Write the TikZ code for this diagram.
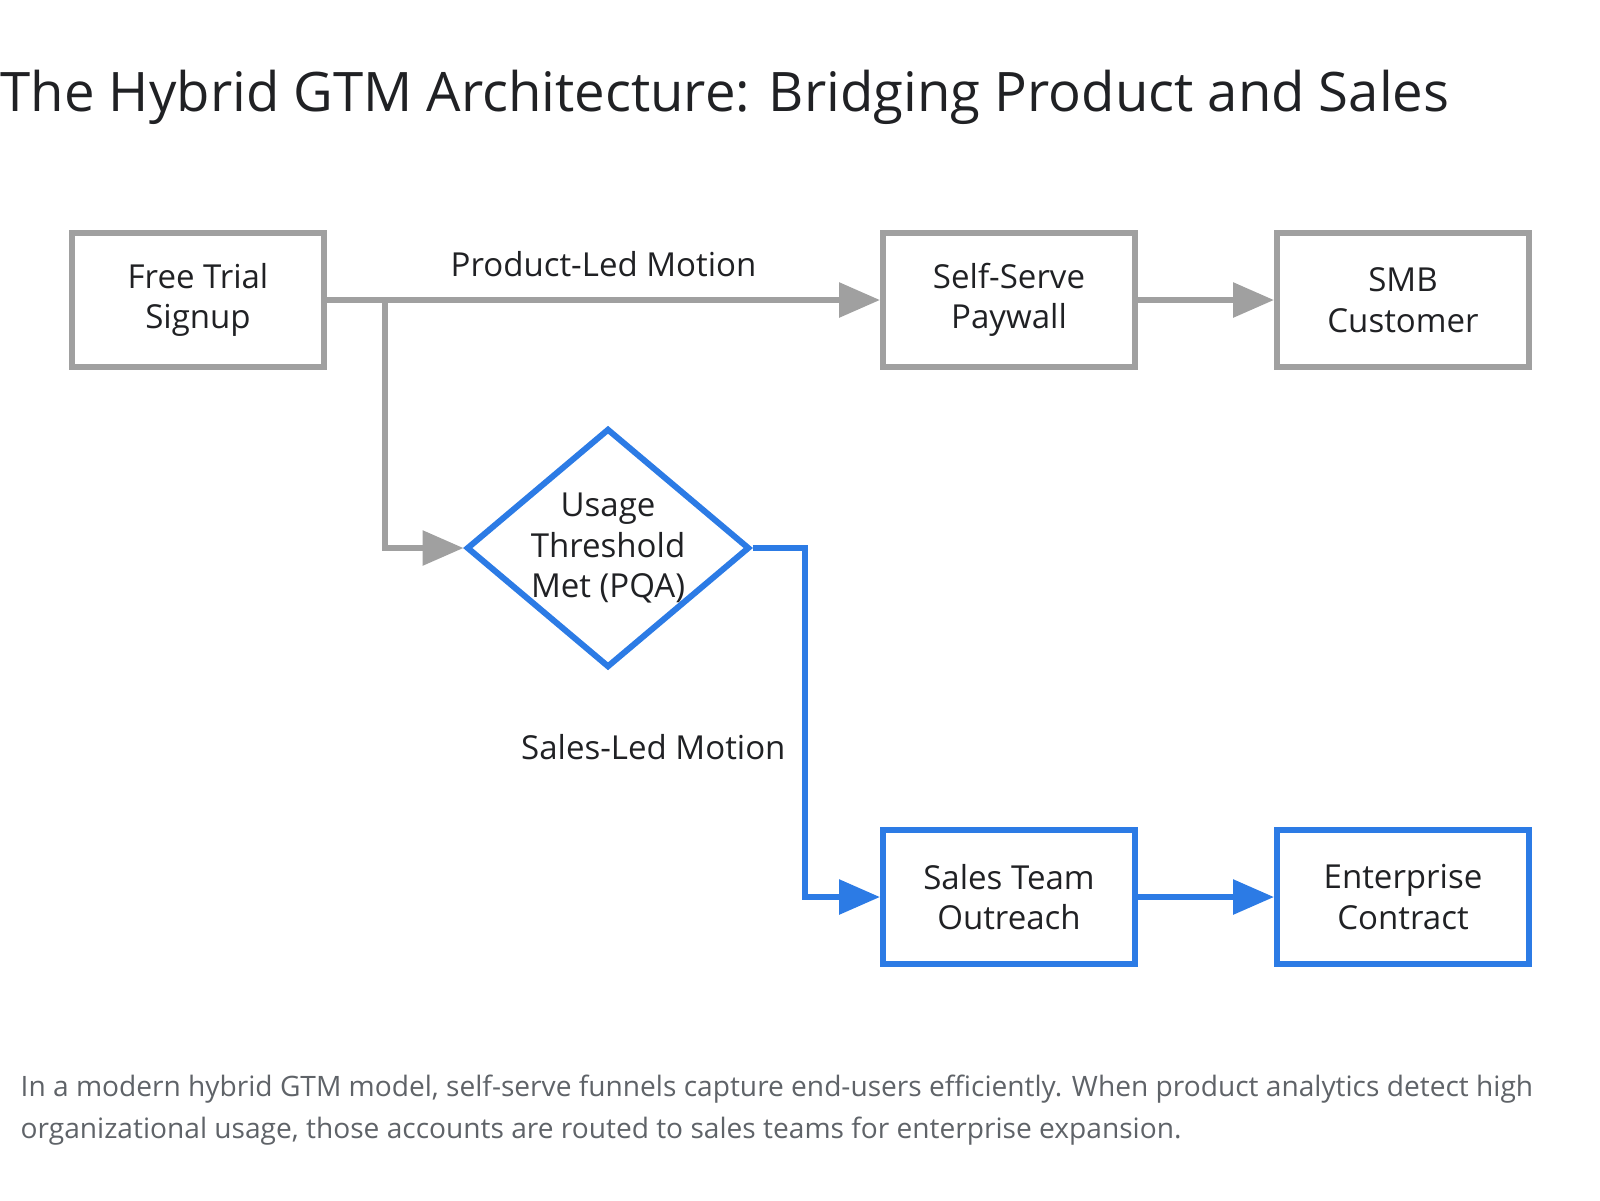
\documentclass[tikz,border=0pt]{standalone}
\usepackage{fontspec}
\setmainfont{Open Sans}
\usepackage{tikz}
\usetikzlibrary{arrows.meta, positioning, shapes.geometric}
\usepackage{xcolor}
\definecolor{flowgray}{RGB}{160,160,160}
\definecolor{flowblue}{RGB}{44,123,229}
\definecolor{inkblack}{RGB}{32,33,36}
\definecolor{notegray}{RGB}{95,99,104}

\begin{document}
\begin{tikzpicture}[
node distance=1.36cm,
>={Triangle[length=0.41cm,width=0.34cm]},
every node/.style={font=\fontsize{9.4}{11.5}\selectfont, text=inkblack},
stage/.style={draw=flowgray, line width=0.06cm, minimum width=2.52cm, minimum height=1.34cm, align=center, inner sep=0},
salesstage/.style={stage, draw=flowblue},
decision/.style={diamond, draw=flowblue, line width=0.06cm, minimum width=2.83cm, minimum height=2.39cm, inner sep=0},
selfflow/.style={->, draw=flowgray, line width=0.06cm},
salesflow/.style={->, draw=flowblue, line width=0.06cm},
note/.style={anchor=base west, inner sep=0, font=\fontsize{8.0}{11}\selectfont, text=notegray}
]
\useasboundingbox (0,0) rectangle (16,-12);

\node (title) [anchor=base west, inner sep=0, font=\fontsize{15.5}{19}\selectfont] at (0,-1.11) {The Hybrid GTM Architecture: Bridging Product and Sales};

\node[stage] (trial) at (1.98,-3.00) {Free Trial\\Signup};
\node[stage] (paywall) [right=5.53cm of trial] {Self-Serve\\Paywall};
\node[stage] (smb) [right=of paywall] {SMB\\Customer};

\node[decision, label={[align=center]center:Usage\\Threshold\\Met (PQA)}] (pqa) at (6.08,-5.48) {};

\node[salesstage] (outreach) [below=4.57cm of paywall] {Sales Team\\Outreach};
\node[salesstage] (contract) [right=of outreach] {Enterprise\\Contract};

\coordinate[right=0.58cm of trial.east] (split);
\coordinate[right=0.52cm of pqa.east] (handoff);

\draw[selfflow] (trial) -- node[above=0.20cm, inner sep=0] {Product-Led Motion} (paywall);
\draw[selfflow] (split) |- (pqa.west);
\draw[selfflow] (paywall) -- (smb);

\draw[salesflow] (pqa.east) -- (handoff) |- node[pos=0.285, left=0.16cm, inner sep=0] {Sales-Led Motion} (outreach.west);
\draw[salesflow] (outreach) -- (contract);

\node (note1) [note] at (0.20,-10.96) {In a modern hybrid GTM model, self-serve funnels capture end-users efficiently. When product analytics detect high};
\node (note2) [note] at (0.20,-11.38) {organizational usage, those accounts are routed to sales teams for enterprise expansion.};

\end{tikzpicture}
\end{document}
